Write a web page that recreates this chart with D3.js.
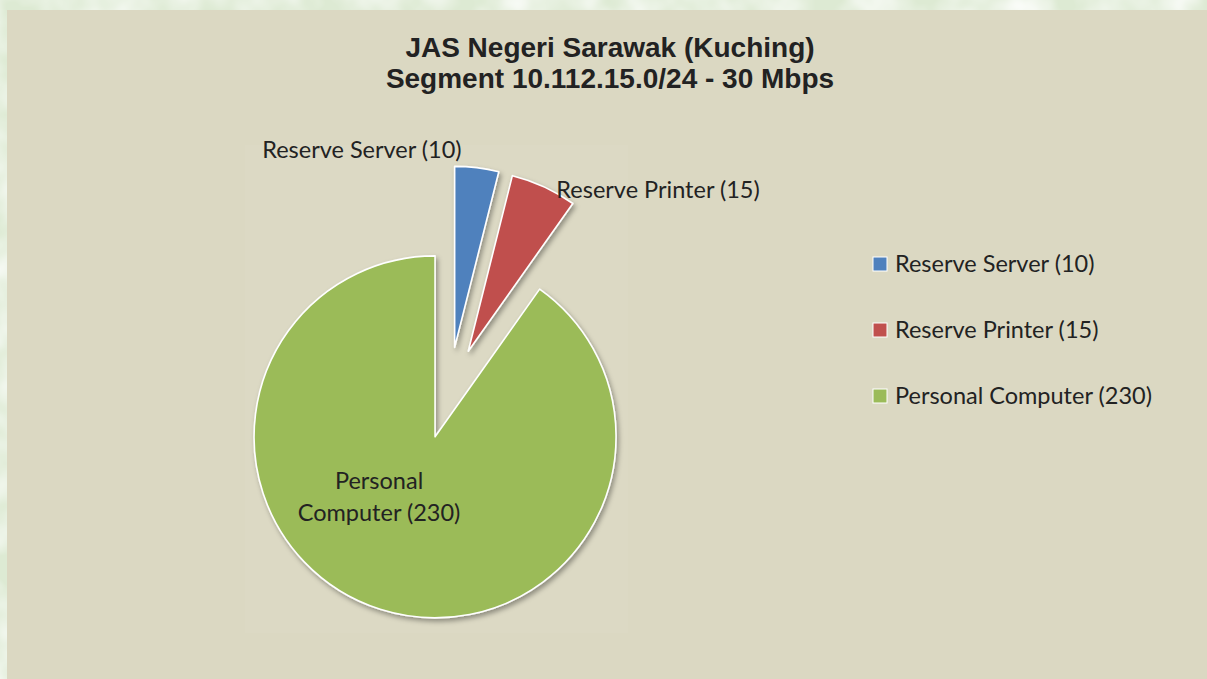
<!DOCTYPE html>
<html><head><meta charset="utf-8">
<script src="https://cdn.jsdelivr.net/npm/d3@7"></script>
<style>html,body{margin:0;padding:0;background:#E5EEDE;} svg{display:block}</style>
</head><body><svg id="c" width="1207" height="679"></svg>
<script>
const categories = ["Reserve Server (10)", "Reserve Printer (15)", "Personal Computer (230)"];
const values = [10, 15, 230];
const colors = ["#4F81BD", "#C0504D", "#9BBB59"];
const titleLines = ["JAS Negeri Sarawak (Kuching)", "Segment 10.112.15.0/24 - 30 Mbps"];
const sliceLabelLines = [["Reserve Server (10)"], ["Reserve Printer (15)"], ["Personal", "Computer (230)"]];

const W = 1207, H = 679;
const svg = d3.select("#c");
const defs = svg.append("defs");

// outer textured background
const turb = defs.append("filter").attr("id","tex").attr("x",0).attr("y",0).attr("width","100%").attr("height","100%");
turb.append("feTurbulence").attr("type","fractalNoise").attr("baseFrequency","0.02").attr("numOctaves",3).attr("seed",4).attr("result","n");
turb.append("feColorMatrix").attr("in","n").attr("type","matrix")
  .attr("values","0 0 0 0 1  0 0 0 0 1  0 0 0 0 1  0 0 0 1.6 -0.5").attr("result","w");
turb.append("feComposite").attr("in","w").attr("in2","SourceGraphic").attr("operator","in");
svg.append("rect").attr("width",W).attr("height",H).attr("fill","#DDEAD3");
svg.append("rect").attr("width",W).attr("height",H).attr("fill","#DDEAD3").attr("filter","url(#tex)");

// chart area
const chartX = 7, chartY = 10;
svg.append("rect").attr("x",chartX).attr("y",chartY).attr("width",W-chartX).attr("height",H-chartY).attr("fill","#DBD8C2");
// plot area (very faint)
svg.append("rect").attr("x",245).attr("y",145).attr("width",383).attr("height",488).attr("fill","#DCD9C4");

// title
const title = svg.append("text").attr("text-anchor","middle")
  .attr("font-family","'Liberation Sans', Arial, sans-serif").attr("font-weight","bold")
  .attr("font-size",28).attr("fill","#222");
titleLines.forEach((t,i)=>title.append("tspan").attr("x",610).attr("y",57+i*31).text(t));

// shadow filter
const sh = defs.append("filter").attr("id","sh").attr("x","-20%").attr("y","-20%").attr("width","140%").attr("height","140%");
sh.append("feDropShadow").attr("dx",2).attr("dy",3).attr("stdDeviation",2.5).attr("flood-color","#000").attr("flood-opacity",0.35);

// pie
const cx = 449, cy = 393, r = 181, explode = 46;
const pie = d3.pie().sort(null).value(d=>d)(values);
const arc = d3.arc().innerRadius(0).outerRadius(r);
const g = svg.append("g").attr("transform",`translate(${cx},${cy})`);
const off = d => { const a = (d.startAngle+d.endAngle)/2; return [explode*Math.sin(a), -explode*Math.cos(a)]; };
g.selectAll("path").data(pie).join("path")
  .attr("d",arc)
  .attr("transform",d=>`translate(${off(d)})`)
  .attr("fill",(d,i)=>colors[i])
  .attr("stroke","#fff").attr("stroke-width",1.6).attr("stroke-linejoin","round")
  .attr("filter","url(#sh)");

// slice labels
const bodyFont = "Lato, 'Open Sans', sans-serif", bodySize = 23.5;
const labelPos = (d,i) => {
  const o = off(d);
  if (i === 0) {
    return {x: o[0] + r*Math.sin(d.startAngle) + 7, y: o[1] - r*Math.cos(d.startAngle) - 8, anchor: "end"};
  } else if (i === 1) {
    return {x: o[0] + r*Math.sin(d.startAngle) + 44, y: o[1] - r*Math.cos(d.startAngle) + 22, anchor: "start"};
  }
  return {x: o[0] - 56, y: o[1] + 52, anchor: "middle"};
};
pie.forEach((d,i)=>{
  const p = labelPos(d,i);
  const t = g.append("text").attr("text-anchor",p.anchor).attr("font-family",bodyFont)
    .attr("font-size",bodySize).attr("fill","#222");
  sliceLabelLines[i].forEach((ln,k)=>t.append("tspan").attr("x",p.x).attr("y",p.y+k*32).text(ln));
});

// legend
const lg = svg.append("g").attr("transform","translate(873,257)");
const rows = lg.selectAll("g").data(categories).join("g").attr("transform",(d,i)=>`translate(0,${i*66})`);
rows.append("rect").attr("width",14).attr("height",14).attr("fill",(d,i)=>colors[i]).attr("stroke","#fff").attr("stroke-width",1);
rows.append("text").attr("x",22).attr("y",15).attr("font-family",bodyFont).attr("font-size",bodySize).attr("fill","#222").text(d=>d);
</script></body></html>
